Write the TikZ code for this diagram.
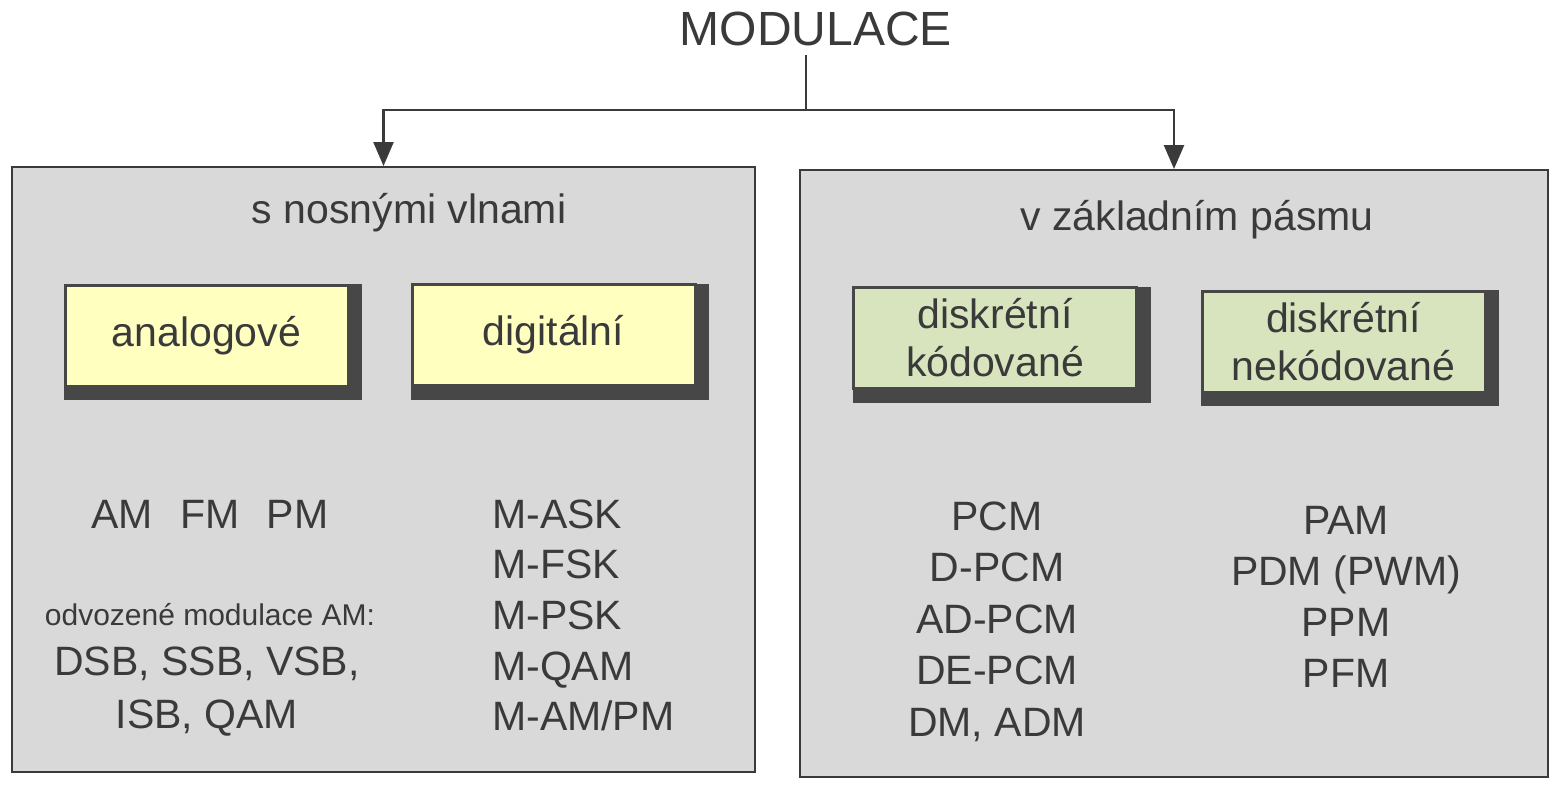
\documentclass[tikz,border=0pt]{standalone}
\usepackage{fontspec}
\setmainfont{Liberation Sans}
\usetikzlibrary{arrows.meta}
\definecolor{ink}{HTML}{3A3A3A}
\definecolor{panel}{HTML}{D9D9D9}
\definecolor{yel}{HTML}{FFFFC0}
\definecolor{grn}{HTML}{D7E4BD}
\definecolor{shd}{HTML}{474747}
\begin{document}
\begin{tikzpicture}[x=1pt,y=-1pt,
 txt/.style={text=ink,font=\fontsize{41}{48}\selectfont,inner sep=0pt},
 smalltxt/.style={text=ink,font=\fontsize{30}{36}\selectfont,inner sep=0pt},
 panelbox/.style={draw=ink,line width=2pt,fill=panel,inner sep=0pt},
 shadowbox/.style={fill=shd,minimum width=298pt,minimum height=116pt,inner sep=0pt},
 catbox/.style={draw=shd,line width=3pt,minimum width=283pt,minimum height=101pt,inner sep=0pt,
   text=ink,font=\fontsize{41}{48}\selectfont,align=center},
 conn/.style={draw=ink,line width=2.5pt},
 arr/.style={conn,-{Triangle[width=20pt,length=24pt]}}
]
\useasboundingbox (0,0) rectangle (1560,796);

% title
\node[text=ink,font=\fontsize{48}{56}\selectfont,inner xsep=0pt,inner ysep=0pt,outer ysep=10pt,anchor=base] (mod) at (816,45) {MODULACE};

% panels
\node[panelbox,minimum width=743pt,minimum height=605pt] (L) at (383.5,469.5) {};
\node[panelbox,minimum width=748pt,minimum height=607pt] (R) at (1174,473.5) {};

% connectors
\coordinate (j) at (806,110);
\draw[conn] (mod.south -| j) -- (j);
\draw[arr] (j) -| (L.north);
\draw[arr] (j) -| (R.north);

% panel titles
\node[txt,anchor=base] (tl) at (409,223) {s nosnými vlnami};
\node[txt,anchor=base] (tr) at (1197,230) {v základním pásmu};

% category boxes (dark frame/shadow first)
\node[shadowbox] (ans) at (213,342) {};
\node[shadowbox] (dgs) at (560,341.5) {};
\node[shadowbox] (dks) at (1001.5,344.5) {};
\node[shadowbox] (dns) at (1350,348) {};
\node[catbox,fill=yel] (an) at (206.5,335.5) {analogové};
\node[catbox,fill=yel] (dg) at (553.5,335) {digitální};
\node[catbox,fill=grn] (dk) at (995,338) {diskrétní\\kódované};
\node[catbox,fill=grn] (dn) at (1343.5,341.5) {diskrétní\\nekódované};

% left lists
\node[txt,anchor=base] (amfmpm) at (210,528) {AM\hspace{16pt} FM\hspace{16pt} PM};
\node[smalltxt,anchor=base] (odv) at (210,625) {odvozené modulace AM:};
\node[txt,anchor=base] (dsb) at (207,675) {DSB, SSB, VSB,};
\node[txt,anchor=base] (isb) at (207,728) {ISB, QAM};

\node[txt,anchor=base west] (mask) at (492,528) {M-ASK};
\node[txt,anchor=base west] (mfsk) at (492,578) {M-FSK};
\node[txt,anchor=base west] (mpsk) at (492,629) {M-PSK};
\node[txt,anchor=base west] (mqam) at (492,680) {M-QAM};
\node[txt,anchor=base west] (mampm) at (492,730) {M-AM/PM};

% right lists
\node[txt,anchor=base] (pcm) at (997,530) {PCM};
\node[txt,anchor=base] (dpcm) at (997,581) {D-PCM};
\node[txt,anchor=base] (adpcm) at (997,633) {AD-PCM};
\node[txt,anchor=base] (depcm) at (997,684) {DE-PCM};
\node[txt,anchor=base] (dm) at (997,736) {DM, ADM};

\node[txt,anchor=base] (pam) at (1346,534) {PAM};
\node[txt,anchor=base] (pdm) at (1346,585) {PDM (PWM)};
\node[txt,anchor=base] (ppm) at (1346,636) {PPM};
\node[txt,anchor=base] (pfm) at (1346,687) {PFM};
\end{tikzpicture}
\end{document}
